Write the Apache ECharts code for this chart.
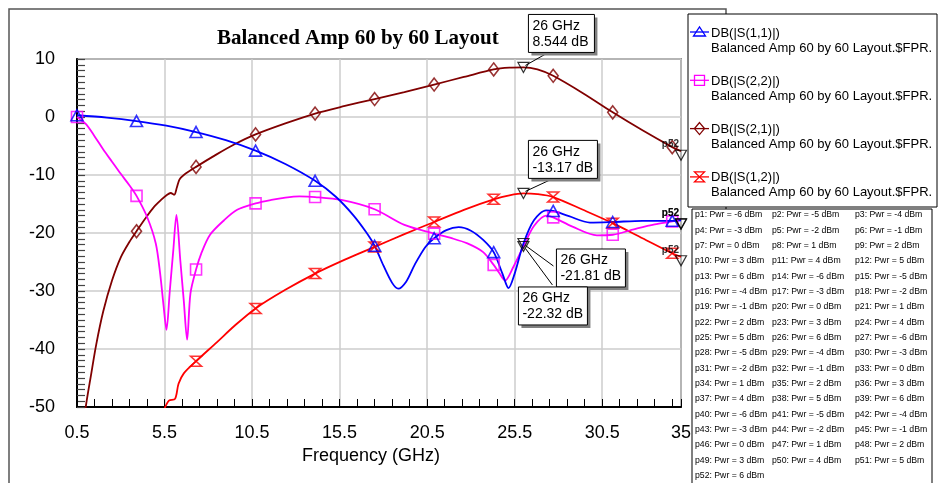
<!DOCTYPE html>
<html><head><meta charset="utf-8">
<script src="https://cdn.jsdelivr.net/npm/echarts@6/dist/echarts.min.js"></script>
<style>html,body{margin:0;padding:0;background:#fff}#c{width:939px;height:483px}</style>
</head><body><div id="c"></div>
<script>
// ---------- data ----------
const chartTitle = 'Balanced Amp 60 by 60 Layout';
const xAxisTitle = 'Frequency (GHz)';
const xMin = 0.5, xMax = 35, xLabelStep = 5, xTickStep = 1;
const yMin = -50, yMax = 10, yStep = 10;

const markerFreq = [0.5, 3.9, 7.3, 10.7, 14.1, 17.5, 20.9, 24.3, 27.7, 31.1, 34.5];

const s11Freq = [0.5, 2.2, 3.9, 5.6, 7.3, 9.0, 10.7, 12.4, 14.1, 15.3, 16.3, 17.0, 17.5, 18.0, 18.5, 18.85, 19.3, 19.8, 20.4, 20.9, 21.6, 22.3, 23.0, 23.7, 24.3, 24.8, 25.15, 25.5, 26.0, 26.6, 27.3, 27.7, 28.6, 29.8, 31.1, 32.8, 34.5, 35];
const s11dB   = [0.3, -0.1, -0.7, -1.5, -2.6, -4.0, -5.8, -8.1, -11.0, -13.8, -17.0, -19.8, -22.2, -25.6, -28.6, -29.6, -28.4, -25.4, -22.4, -20.9, -19.5, -19.0, -19.6, -21.2, -23.3, -27.0, -29.5, -27.0, -21.81, -17.8, -16.1, -16.2, -17.1, -18.2, -18.1, -17.9, -17.9, -17.8];

const s22Freq = [0.5, 1.0, 1.5, 2.0, 2.5, 3.0, 3.5, 3.9, 4.5, 5.0, 5.25, 5.45, 5.61, 5.8, 6.0, 6.18, 6.4, 6.6, 6.79, 6.98, 7.3, 7.6, 8.1, 8.9, 9.65, 10.7, 11.6, 12.4, 13.2, 14.1, 15.6, 17.5, 19.2, 20.9, 21.9, 22.8, 23.7, 24.3, 24.6, 24.95, 25.4, 26.0, 26.6, 27.3, 27.7, 28.8, 30.2, 31.1, 32.5, 33.5, 34.5, 35];
const s22dB   = [0.0, -1.2, -3.3, -5.6, -7.7, -9.8, -11.8, -13.6, -17.2, -21.8, -27.0, -32.7, -36.7, -30.0, -23.0, -16.9, -24.7, -31.7, -38.4, -30.4, -26.3, -23.5, -20.3, -17.8, -16.0, -14.9, -14.3, -13.9, -13.7, -13.8, -14.3, -15.9, -18.6, -20.1, -20.9, -21.8, -23.3, -25.5, -26.8, -28.2, -26.0, -22.32, -18.8, -17.0, -17.3, -18.9, -20.4, -20.3, -19.2, -18.5, -18.0, -17.7];

const s21Freq = [0.9, 1.0, 1.3, 1.6, 2.0, 2.5, 3.0, 3.5, 3.9, 4.4, 4.9, 5.3, 5.65, 5.85, 6.05, 6.2, 6.35, 6.6, 7.3, 8.5, 9.5, 10.7, 12.4, 14.1, 15.8, 17.5, 19.2, 20.9, 22.6, 24.3, 25.2, 26.0, 26.8, 27.7, 29.4, 31.1, 32.8, 34.5, 35];
const s21dB   = [-53, -50, -44.5, -39.2, -33.5, -28.2, -24.2, -21.5, -19.7, -17.5, -15.5, -14.3, -13.4, -13.1, -13.4, -12.2, -10.8, -10.0, -8.6, -6.4, -4.7, -3.0, -1.1, 0.6, 1.9, 3.1, 4.3, 5.6, 6.9, 8.2, 8.5, 8.544, 8.2, 7.1, 4.1, 0.8, -2.3, -5.2, -5.9];

const s12Freq = [5.5, 5.75, 6.1, 6.3, 6.6, 7.3, 8.5, 9.5, 10.7, 12.4, 14.1, 15.8, 17.5, 19.2, 20.9, 22.6, 24.3, 25.2, 26.0, 26.8, 27.7, 29.4, 31.1, 32.8, 34.5, 35];
const s12dB   = [-50.3, -48.9, -48.6, -46.0, -44.2, -42.1, -38.8, -36.0, -33.0, -29.8, -27.0, -24.6, -22.4, -20.2, -18.1, -16.0, -14.2, -13.5, -13.17, -13.3, -13.8, -16.0, -18.3, -20.9, -23.5, -24.1];

const annoFreq = 26;
const annoVals = [8.544, -13.17, -21.81, -22.32];

const legendNames = ['DB(|S(1,1)|)', 'DB(|S(2,2)|)', 'DB(|S(2,1)|)', 'DB(|S(1,2)|)'];
const legendSub = 'Balanced Amp 60 by 60 Layout.$FPR.AMP';
const pwrLevels = [-6, -5, -4, -3, -2, -1, 0, 1, 2, 3, 4, 5, 6];
const sweepCount = 52;

// ---------- styles / layout ----------
const FONT = '"Liberation Sans", Arial, sans-serif';
const curves = [
  {f: s21Freq, v: s21dB, color: '#800000', symbol: 'diamond', size: [10, 13], leg: 2},
  {f: s12Freq, v: s12dB, color: '#ff0000', symbol: 'path://M0,0L10,0L0,10L10,10Z', size: [11, 10], leg: 3},
  {f: s22Freq, v: s22dB, color: '#ff00ff', symbol: 'rect', size: [11, 11], leg: 1},
  {f: s11Freq, v: s11dB, color: '#0000ff', symbol: 'triangle', size: [12, 11], leg: 0}
];
const legendOrder = [3, 2, 0, 1]; // curves index for legend rows

const pts = (f, v) => f.map((x, i) => [x, v[i]]);
const markerPts = (f, v) => pts(f, v).filter(p => markerFreq.some(m => Math.abs(m - p[0]) < 1e-9));

const series = [];
curves.forEach(c => {
  series.push({type: 'line', data: pts(c.f, c.v), smooth: 0.3, showSymbol: false, symbol: 'none',
    lineStyle: {color: c.color, width: 1.8}, itemStyle: {color: c.color}, z: 3, silent: true, animation: false});
  series.push({type: 'scatter', data: markerPts(c.f, c.v), symbol: c.symbol, symbolSize: c.size,
    itemStyle: {color: 'rgba(255,255,255,0)', borderColor: c.color, borderWidth: 1.6}, z: 4, silent: true, animation: false});
});
series.push({type: 'scatter', data: annoVals.map(v => [annoFreq, v]), symbol: 'triangle', symbolRotate: 180,
  symbolSize: [11, 10], itemStyle: {color: 'rgba(255,255,255,0)', borderColor: '#000', borderWidth: 1.2}, z: 6, silent: true, animation: false});
series.push({type: 'scatter', data: curves.map(c => [c.f[c.f.length - 1], c.v[c.v.length - 1]]), symbol: 'triangle', symbolRotate: 180,
  symbolSize: [11, 10], symbolOffset: [0, 4], itemStyle: {color: 'rgba(255,255,255,0)', borderColor: '#000', borderWidth: 1.2},
  label: {show: true, formatter: 'p52', position: [-13, -10], fontSize: 10, fontWeight: 'bold', color: '#000', fontFamily: FONT},
  z: 6, silent: true, animation: false, clip: false});

const option = {
  animation: false,
  backgroundColor: '#fff',
  title: {text: chartTitle, left: 217, top: 28, padding: 0,
    textStyle: {fontFamily: '"Liberation Serif", "Times New Roman", serif', fontWeight: 'bold', fontSize: 21, color: '#000'}},
  grid: {left: 77, top: 59, width: 604, height: 348, show: true, borderColor: '#444', borderWidth: 1.5,
    backgroundColor: '#fff', containLabel: false, outerBoundsMode: 'none'},
  xAxis: [
    {type: 'value', min: xMin, max: xMax, interval: xTickStep, position: 'bottom',
      axisLine: {show: true, onZero: false, lineStyle: {color: '#000', width: 2}},
      axisTick: {show: true, inside: true, length: 8, lineStyle: {color: '#000', width: 1}},
      axisLabel: {show: true, margin: 17, fontSize: 18, color: '#000', fontFamily: FONT,
        formatter: v => { const k = (v - xMin) / xLabelStep; return (Math.abs(k - Math.round(k)) < 1e-6 || Math.abs(v - xMax) < 1e-6) ? String(+v.toFixed(2)) : ''; }},
      splitLine: {show: false},
      name: xAxisTitle, nameLocation: 'middle', nameGap: 38,
      nameTextStyle: {fontSize: 18, color: '#000', fontFamily: FONT, padding: [0, 16, 0, 0]}},
    {type: 'value', min: xMin, max: xMax, interval: xLabelStep, position: 'top',
      axisLine: {show: false}, axisTick: {show: false}, axisLabel: {show: false},
      splitLine: {show: true, lineStyle: {color: '#cccccc', width: 1.5}}}
  ],
  yAxis: {type: 'value', min: yMin, max: yMax, interval: yStep,
    axisLine: {show: true, onZero: false, lineStyle: {color: '#000', width: 2}},
    axisTick: {show: true, inside: true, length: 8, lineStyle: {color: '#444', width: 1.2}},
    minorTick: {show: true, splitNumber: 10, length: 8, lineStyle: {color: '#444', width: 1.2}},
    axisLabel: {margin: 22, fontSize: 18, color: '#000', fontFamily: FONT},
    splitLine: {show: true, lineStyle: {color: '#cccccc', width: 1.5}}},
  series: series
};

const chart = echarts.init(document.getElementById('c'), null, {renderer: 'canvas'});
chart.setOption(option);

// ---------- graphics: frame, legend, sweep table, annotations ----------
const g = [];
g.push({type: 'rect', z: -10, shape: {x: 9, y: 9, width: 717, height: 520}, style: {fill: 'none', stroke: '#555', lineWidth: 1.5}, silent: true});

// legend box
g.push({type: 'rect', z: 50, shape: {x: 688, y: 14, width: 249, height: 193}, style: {fill: '#fff', stroke: '#000', lineWidth: 1}, silent: true});
const legShapes = {
  triangle: [[-6, 4], [6, 4], [0, -5]],
  rect: [[-5, -5], [5, -5], [5, 5], [-5, 5]],
  diamond: [[0, -6], [5, 0], [0, 6], [-5, 0]],
  hour: [[-5, -5], [5, -5], [-5, 5], [5, 5]]
};
legendOrder.forEach((ci, row) => {
  const c = curves[ci];
  const y1 = 33 + 48.3 * row, y2 = y1 + 15;
  const key = c.symbol === 'triangle' ? 'triangle' : c.symbol === 'rect' ? 'rect' : c.symbol === 'diamond' ? 'diamond' : 'hour';
  g.push({type: 'line', z: 51, shape: {x1: 690, y1: y1 - 1, x2: 709, y2: y1 - 1}, style: {stroke: c.color, lineWidth: 1.3}, silent: true});
  g.push({type: 'polygon', z: 52, x: 699.5, y: y1 - 1, shape: {points: legShapes[key]}, style: {fill: 'none', stroke: c.color, lineWidth: 1.3}, silent: true});
  g.push({type: 'text', z: 52, x: 711, y: y1, style: {text: legendNames[row], font: '13px ' + FONT, fill: '#000', verticalAlign: 'middle'}, silent: true});
  g.push({type: 'text', z: 52, x: 711, y: y2, style: {text: legendSub, font: '13px ' + FONT, fill: '#000', verticalAlign: 'middle', width: 225, overflow: 'truncate', ellipsis: ''}, silent: true});
});

// sweep table
g.push({type: 'rect', z: 50, shape: {x: 692, y: 209, width: 240, height: 300}, style: {fill: '#fff', stroke: '#000', lineWidth: 1}, silent: true});
const colX = [695, 772, 855];
for (let i = 0; i < sweepCount; i++) {
  const row = Math.floor(i / 3), col = i % 3;
  g.push({type: 'text', z: 52, x: colX[col], y: 215 + 15.33 * row,
    style: {text: 'p' + (i + 1) + ': Pwr = ' + pwrLevels[i % pwrLevels.length] + ' dBm', font: '8.7px ' + FONT, fill: '#000', verticalAlign: 'middle'}, silent: true});
}

// annotation call-outs
const boxOff = [[5, -53, 66], [5, -53, 69], [33, 5.5, 69], [-5, 40.5, 69]];
const lineFrom = [[20, 38], [25, 38], [-3, 17], [34, -2]];   // relative to box top-left
annoVals.forEach((v, i) => {
  const p = chart.convertToPixel({xAxisIndex: 0, yAxisIndex: 0}, [annoFreq, v]);
  const bx = p[0] + boxOff[i][0], by = p[1] + boxOff[i][1], bw = boxOff[i][2], bh = 38;
  const lf = lineFrom[i];
  g.push({type: 'line', z: 60, shape: {x1: bx + lf[0], y1: by + lf[1], x2: p[0] + 2, y2: p[1] + (i === 2 || i === 3 ? 2 : -2)}, style: {stroke: '#000', lineWidth: 1}, silent: true});
  g.push({type: 'rect', z: 61, shape: {x: bx + 3, y: by + 3, width: bw, height: bh}, style: {fill: '#808080'}, silent: true});
  g.push({type: 'rect', z: 62, shape: {x: bx, y: by, width: bw, height: bh}, style: {fill: '#fff', stroke: '#000', lineWidth: 1}, silent: true});
  g.push({type: 'text', z: 63, x: bx + 4, y: by + 11.5, style: {text: annoFreq + ' GHz', font: '14px ' + FONT, fill: '#000', verticalAlign: 'middle'}, silent: true});
  g.push({type: 'text', z: 63, x: bx + 4, y: by + 27.5, style: {text: v + ' dB', font: '14px ' + FONT, fill: '#000', verticalAlign: 'middle'}, silent: true});
});

chart.setOption({graphic: g});
</script>
</body></html>
